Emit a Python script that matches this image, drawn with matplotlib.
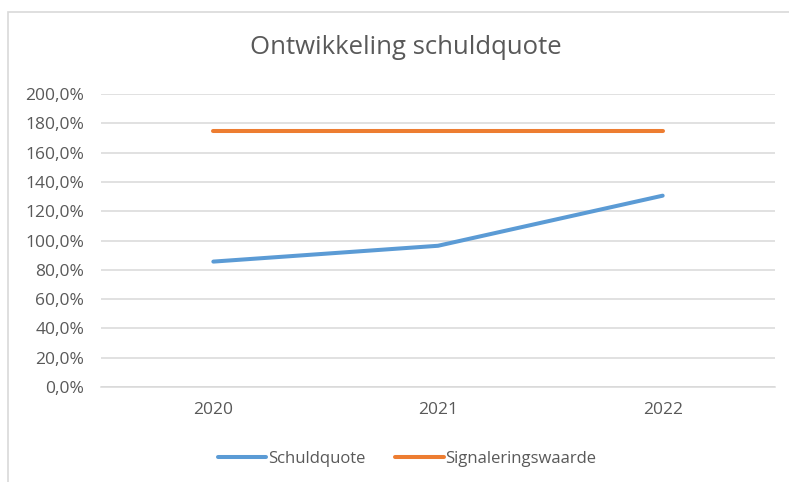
import matplotlib
matplotlib.use("Agg")
import matplotlib.pyplot as plt
from matplotlib.patches import Rectangle
from matplotlib.ticker import FuncFormatter

years = ["2020", "2021", "2022"]
schuldquote = [85.6, 96.4, 130.6]
signaleringswaarde = [175.0, 175.0, 175.0]
yticks = list(range(0, 201, 20))

plt.rcParams['font.family'] = ['Open Sans', 'DejaVu Sans']

fig = plt.figure(figsize=(7.89, 4.82), dpi=100)
ax = fig.add_axes([101/789, 1-387/482, (775-101)/789, (387-94)/482])

x = list(range(len(years)))
ax.plot(x, schuldquote, color="#5B9BD5", lw=2.9, solid_capstyle="round", label="Schuldquote", zorder=3)
ax.plot(x, signaleringswaarde, color="#ED7D31", lw=2.9, solid_capstyle="round", label="Signaleringswaarde", zorder=3)

ax.set_xlim(-0.5, len(years) - 0.5)
ax.set_ylim(0, 200)
ax.set_yticks(yticks)
ax.yaxis.set_major_formatter(FuncFormatter(lambda v, p: f"{v:.1f}%".replace(".", ",")))
ax.set_xticks(x)
ax.set_xticklabels(years)
ax.grid(axis="y", color="#d9d9d9", lw=1.1)
ax.set_axisbelow(True)
for s in ["top", "right", "left"]:
    ax.spines[s].set_visible(False)
ax.spines["bottom"].set_color("#d9d9d9")
ax.spines["bottom"].set_linewidth(1.1)
ax.tick_params(length=0, labelsize=12.5, colors="#595959")
ax.tick_params(axis="y", pad=12)
ax.tick_params(axis="x", pad=11)

fig.text(406/789, 1-48/482, "Ontwikkeling schuldquote", ha="center", va="center",
         fontsize=18.5, color="#595959")

fig.legend(loc="center", bbox_to_anchor=(407/789, 1-459/482), ncol=2, frameon=False,
           handlelength=2.9, handletextpad=0.1, columnspacing=1.8,
           prop={"size": 12}, labelcolor="#595959")

fig.patches.append(Rectangle((8/789, -0.05), 1.0, 1-12/482+0.05, transform=fig.transFigure,
                             fill=False, edgecolor="#d9d9d9", lw=1.2))

fig.savefig("out.png", dpi=100)
